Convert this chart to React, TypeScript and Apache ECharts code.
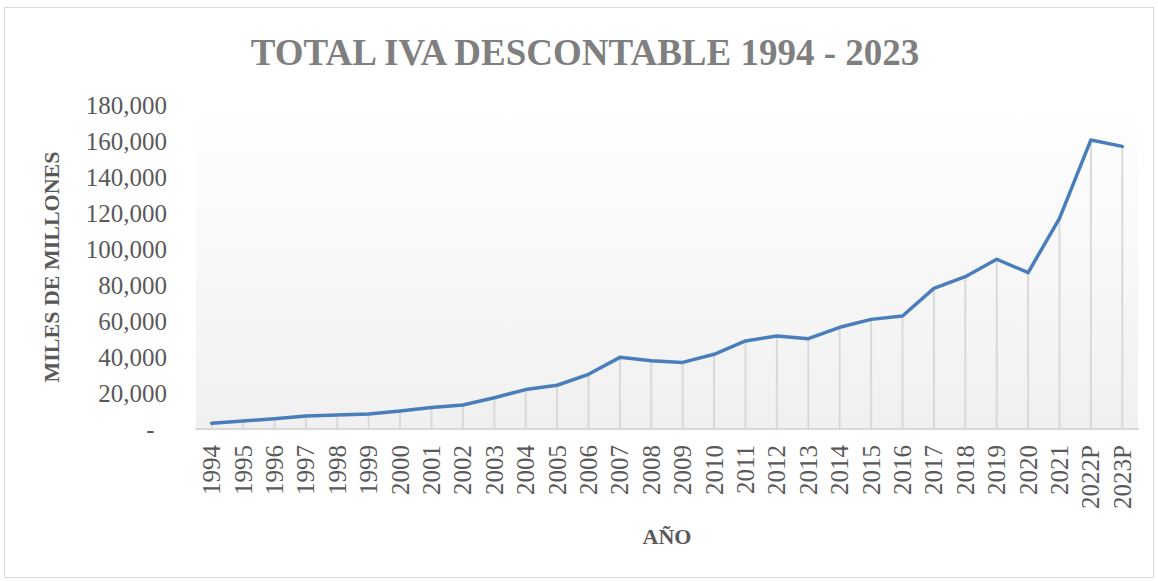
import React, { useEffect, useRef } from "react";
import * as echarts from "echarts";

const years = [
  "1994", "1995", "1996", "1997", "1998", "1999", "2000", "2001", "2002", "2003",
  "2004", "2005", "2006", "2007", "2008", "2009", "2010", "2011", "2012", "2013",
  "2014", "2015", "2016", "2017", "2018", "2019", "2020", "2021", "2022P", "2023P",
];

const ivaDescontable = [
  3200, 4400, 5700, 7200, 7800, 8300, 10000, 12000, 13300, 17400,
  21900, 24300, 30400, 39800, 37900, 37000, 41500, 48900, 51700, 50200,
  56500, 60900, 62800, 78100, 84600, 94300, 86900, 117000, 160600, 157000,
];

const yTicks = { min: 0, max: 180000, interval: 20000 };

const titleText = "TOTAL IVA DESCONTABLE 1994 - 2023";
const yName = "MILES DE MILLONES";
const xName = "AÑO";

const FONT = "'Liberation Serif', 'DejaVu Serif', serif";

export default function App() {
  const ref = useRef<HTMLDivElement>(null);

  useEffect(() => {
    if (!ref.current) return;
    const chart = echarts.init(ref.current, undefined, { renderer: "svg" });
    chart.setOption({
      animation: false,
      backgroundColor: "#ffffff",
      title: {
        text: titleText,
        left: 580,
        textAlign: "center",
        top: 29,
        textStyle: {
          fontFamily: FONT,
          fontSize: 37,
          fontWeight: "bold",
          color: "#7f7f7f",
        },
      },
      graphic: [
        {
          type: "rect",
          shape: { x: 4.5, y: 7.5, width: 1149, height: 570 },
          style: { fill: "none", stroke: "#d9d9d9", lineWidth: 1 },
          silent: true,
        },
      ],
      grid: {
        left: 196,
        right: 20,
        top: 105,
        height: 324,
        show: true,
        borderWidth: 0,
        backgroundColor: {
          type: "linear",
          x: 0,
          y: 0,
          x2: 0,
          y2: 1,
          colorStops: [
            { offset: 0, color: "#ffffff" },
            { offset: 0.13, color: "#fdfdfd" },
            { offset: 1, color: "#f0f0f0" },
          ],
        },
      },
      xAxis: {
        type: "category",
        data: years,
        boundaryGap: true,
        name: xName,
        nameLocation: "middle",
        nameGap: 96,
        nameTextStyle: {
          fontFamily: FONT,
          fontSize: 22,
          fontWeight: "bold",
          color: "#595959",
        },
        axisLine: { lineStyle: { color: "#d9d9d9", width: 2 } },
        axisTick: { show: false },
        axisLabel: {
          rotate: 90,
          interval: 0,
          margin: 16,
          fontFamily: FONT,
          fontSize: 25,
          color: "#595959",
        },
        splitLine: { show: false },
      },
      yAxis: {
        type: "value",
        min: yTicks.min,
        max: yTicks.max,
        interval: yTicks.interval,
        name: yName,
        nameLocation: "middle",
        nameGap: 134,
        nameTextStyle: {
          fontFamily: FONT,
          fontSize: 22,
          fontWeight: "bold",
          color: "#595959",
        },
        axisLine: { show: false },
        axisTick: { show: false },
        splitLine: { show: false },
        axisLabel: {
          margin: 29,
          fontFamily: FONT,
          fontSize: 25,
          color: "#595959",
          formatter: (v: number) => (v === 0 ? "-  " : v.toLocaleString("en-US")),
        },
      },
      series: [
        {
          type: "bar",
          data: ivaDescontable,
          barWidth: 2,
          itemStyle: { color: "#d9d9d9" },
          silent: true,
          z: 1,
        },
        {
          type: "line",
          data: ivaDescontable,
          symbol: "none",
          lineStyle: { color: "#4a7ebb", width: 3.5, cap: "round", join: "round" },
          z: 3,
        },
      ],
    });
    return () => chart.dispose();
  }, []);

  return (
    <div
      ref={ref}
      style={{ position: "fixed", left: 0, top: 0, width: 1158, height: 581 }}
    />
  );
}
